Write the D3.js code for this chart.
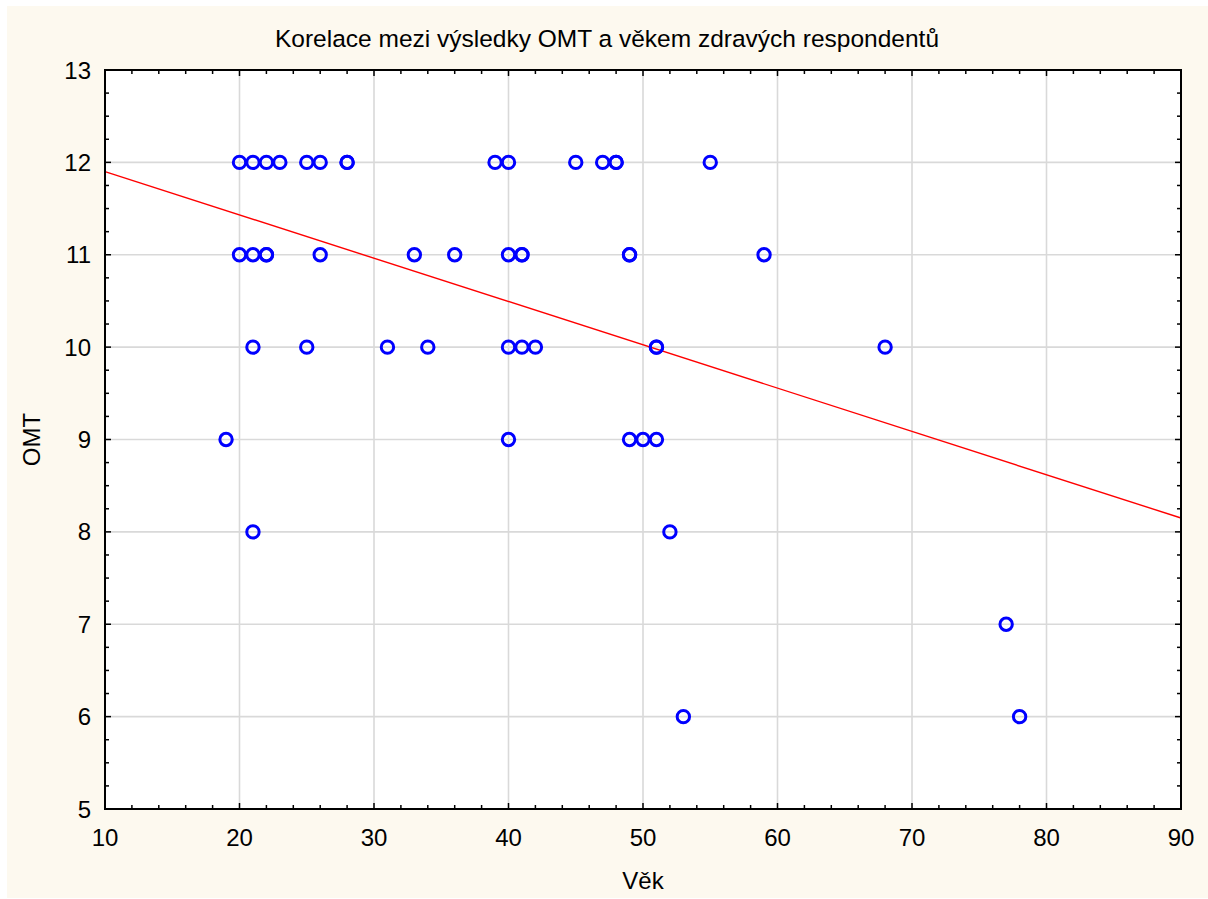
<!DOCTYPE html>
<html>
<head>
<meta charset="utf-8">
<script src="https://cdn.jsdelivr.net/npm/d3@7"></script>
<style>
  body { margin: 0; background: #fff; }
  text { font-family: "Liberation Sans", Arial, sans-serif; fill: #000; }
</style>
</head>
<body>
<svg id="chart" width="1208" height="899"></svg>
<script>
// data (age, OMT score)
var ages   = [20,21,22,23,25,26,28,28,39,40,45,47,48,48,55,
              20,21,22,22,26,33,36,40,41,41,49,49,59,
              21,25,31,34,40,41,42,51,51,68,
              19,40,49,50,51,
              21,52,
              77,
              53,78];
var scores = [12,12,12,12,12,12,12,12,12,12,12,12,12,12,12,
              11,11,11,11,11,11,11,11,11,11,11,11,11,
              10,10,10,10,10,10,10,10,10,10,
              9,9,9,9,9,
              8,8,
              7,
              6,6];
// fitted line end points
var fitX = [10, 90];
var fitY = [11.9, 8.15];
var xTicks = [10,20,30,40,50,60,70,80,90];
var yTicks = [5,6,7,8,9,10,11,12,13];

var svg = d3.select("#chart");

// cream background panel
svg.append("rect")
  .attr("x", 7).attr("y", 6)
  .attr("width", 1201).attr("height", 892)
  .attr("fill", "#fdf9ef");

var pL = 105, pR = 1181, pT = 70, pB = 809;

var x = d3.scaleLinear().domain([10, 90]).range([pL, pR]);
var y = d3.scaleLinear().domain([5, 13]).range([pB, pT]);

svg.append("rect")
  .attr("x", pL).attr("y", pT)
  .attr("width", pR - pL).attr("height", pB - pT)
  .attr("fill", "#fff");

// grid
svg.append("g").selectAll("line")
  .data(xTicks.slice(1, -1))
  .enter().append("line")
    .attr("x1", d => x(d)).attr("x2", d => x(d))
    .attr("y1", pT).attr("y2", pB)
    .attr("stroke", "#d9d9d9").attr("stroke-width", 1.6);
svg.append("g").selectAll("line")
  .data(yTicks.slice(1, -1))
  .enter().append("line")
    .attr("x1", pL).attr("x2", pR)
    .attr("y1", d => y(d)).attr("y2", d => y(d))
    .attr("stroke", "#d9d9d9").attr("stroke-width", 1.6);

// minor / major ticks, pointing inward on all four sides
var xMinor = d3.range(10, 90.01, 2);
var yMinor = d3.range(5, 13.01, 0.25);
var ticks = svg.append("g").attr("stroke", "#000").attr("stroke-width", 1.5);
xMinor.forEach(function(v){
  var len = (v % 10 === 0) ? 6 : 4;
  ticks.append("line").attr("x1", x(v)).attr("x2", x(v)).attr("y1", pB).attr("y2", pB - len);
  ticks.append("line").attr("x1", x(v)).attr("x2", x(v)).attr("y1", pT).attr("y2", pT + len);
});
yMinor.forEach(function(v){
  var len = (v % 1 === 0) ? 6 : 4;
  ticks.append("line").attr("y1", y(v)).attr("y2", y(v)).attr("x1", pL).attr("x2", pL + len);
  ticks.append("line").attr("y1", y(v)).attr("y2", y(v)).attr("x1", pR).attr("x2", pR - len);
});

// regression line
svg.append("path")
  .datum(d3.zip(fitX, fitY))
  .attr("d", d3.line().x(d => x(d[0])).y(d => y(d[1])))
  .attr("stroke", "#ff0000").attr("stroke-width", 1.4).attr("fill", "none");

// points
svg.append("g").selectAll("circle")
  .data(d3.zip(ages, scores))
  .enter().append("circle")
    .attr("cx", d => x(d[0]))
    .attr("cy", d => y(d[1]))
    .attr("r", 6.2)
    .attr("fill", "none")
    .attr("stroke", "#0000ff")
    .attr("stroke-width", 3);

// frame
svg.append("rect")
  .attr("x", pL).attr("y", pT)
  .attr("width", pR - pL).attr("height", pB - pT)
  .attr("fill", "none").attr("stroke", "#000").attr("stroke-width", 2);

// tick labels
svg.append("g").selectAll("text")
  .data(xTicks)
  .enter().append("text")
    .attr("x", d => x(d)).attr("y", 846)
    .attr("text-anchor", "middle")
    .style("font-size", "24px")
    .text(d => d);
svg.append("g").selectAll("text")
  .data(yTicks)
  .enter().append("text")
    .attr("x", 91).attr("y", d => y(d) + 8.5)
    .attr("text-anchor", "end")
    .style("font-size", "24px")
    .text(d => d);

// titles
svg.append("text")
  .attr("x", 607).attr("y", 47)
  .attr("text-anchor", "middle")
  .style("font-size", "24.5px")
  .text("Korelace mezi výsledky OMT a věkem zdravých respondentů");
svg.append("text")
  .attr("x", x(50)).attr("y", 889)
  .attr("text-anchor", "middle")
  .style("font-size", "24px")
  .text("Věk");
svg.append("text")
  .attr("transform", "translate(40," + ((pT + pB) / 2) + ") rotate(-90)")
  .attr("text-anchor", "middle")
  .style("font-size", "24px")
  .text("OMT");
</script>
</body>
</html>
